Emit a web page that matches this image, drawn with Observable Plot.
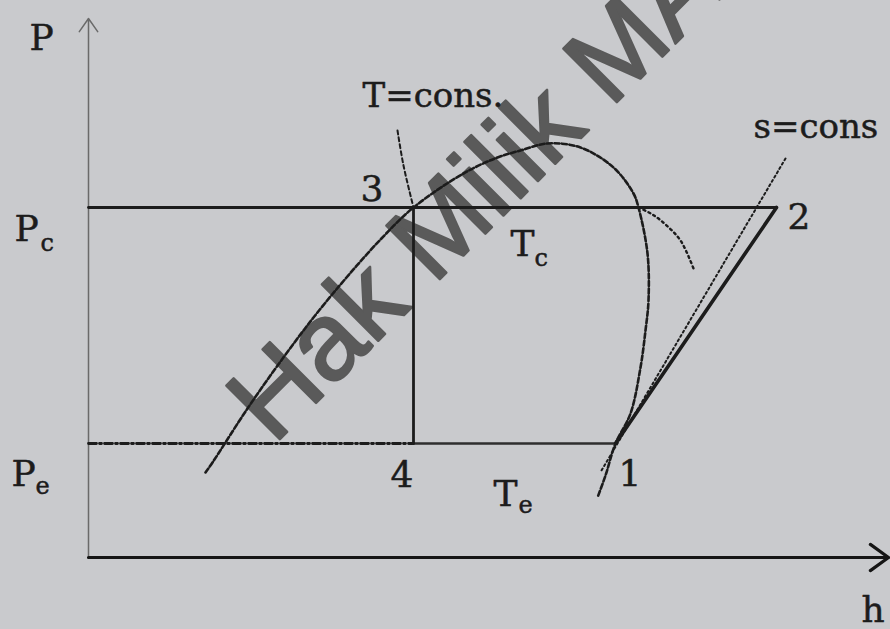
<!DOCTYPE html>
<html>
<head>
<meta charset="utf-8">
<script src="https://cdn.jsdelivr.net/npm/d3@7"></script>
<script src="https://cdn.jsdelivr.net/npm/@observablehq/plot@0.6"></script>
<style>
  html, body { margin: 0; padding: 0; background: #c9cacd; }
  #chart svg { display: block; }
</style>
</head>
<body>
<div id="chart"></div>
<script>
// Vapour-compression cycle on the pressure–enthalpy plane (arbitrary units)
const Pc = 70;     // condensing pressure
const Pe = 22.8;   // evaporating pressure
const hMax = 80;   // end of the h axis
const PMax = 107.8; // end of the P axis

const stateIds = ["1", "2", "3", "4"];
const stateH   = [52.7, 68.8, 32.5, 32.5];
const stateP   = [Pe, Pc, Pc, Pe];

// Saturation dome: liquid line, critical region, vapour line
const domeH = [11.7, 12.4, 15.9, 19.2, 22.5, 25.8, 29.2, 32.5, 37.5, 40.9, 43.2, 45.9,
               49.2, 52.5, 54.5, 55.0, 55.9, 56.0, 55.7, 55.2, 54.2, 52.7, 51.7, 50.9];
const domeP = [17.0, 19.0, 29.8, 39.2, 48.0, 56.0, 63.6, 70.0, 76.8, 80.0, 81.4, 82.8,
               82.0, 78.0, 72.8, 70.0, 60.8, 51.4, 45.4, 38.0, 28.8, 22.8, 16.4, 12.0];

// Condensing isotherm T = const: subcooled branch and superheated branch
const isoLiqH = [30.9, 31.5, 32.5];
const isoLiqP = [85.4, 78.4, 70.0];
const isoVapH = [55.0, 56.4, 57.7, 59.2, 60.5];
const isoVapP = [70.0, 68.6, 66.6, 63.4, 57.8];

// Isentrope s = const through the suction state
const sLineH = [69.7, 51.3];
const sLineP = [79.8, 17.4];

const zip = (hs, ps) => hs.map((h, i) => ({h, P: ps[i]}));
const states = stateIds.map((id, i) => ({id, h: stateH[i], P: stateP[i]}));
const s = Object.fromEntries(states.map(d => [d.id, d]));
const dome = zip(domeH, domeP);
const isoLiq = zip(isoLiqH, isoLiqP);
const isoVap = zip(isoVapH, isoVapP);
const sLine = zip(sLineH, sLineP);
const origin = {h: 0, P: 0};
const axisTop = {h: 0, P: PMax};
const axisEnd = {h: hMax, P: 0};

const ink = "#1c1c1c";
const serif = "DejaVu Serif";
const label = (datum, txt, opts) => Plot.text([datum], {
  x: "h", y: "P", text: () => txt, fill: ink, stroke: ink, strokeWidth: 0.5,
  fontFamily: serif, fontSize: 36, lineAnchor: "bottom", textAnchor: "start", ...opts
});

const chart = Plot.plot({
  width: 890,
  height: 629,
  margin: 0,
  x: {domain: [-8.8, 80.2], axis: null},
  y: {domain: [-14.4, 111.4], axis: null},
  style: {background: "#c9cacd", overflow: "visible"},
  marks: [
    // watermark
    Plot.text([s["4"]], {
      x: "h", y: "P", text: () => "Hak Milik MA", rotate: -45, dx: -140, dy: 2,
      fontSize: 110, fontFamily: "Liberation Sans", fill: "#5a5a5a",
      stroke: "#5a5a5a", strokeWidth: 2.5, textAnchor: "start", lineAnchor: "bottom"
    }),

    // axes
    Plot.arrow([{}], {
      x1: () => origin.h, y1: () => origin.P, x2: () => axisTop.h, y2: () => axisTop.P,
      stroke: "#6a6a6a", strokeWidth: 1.5, headLength: 16, headAngle: 70
    }),
    Plot.arrow([{}], {
      x1: () => origin.h, y1: () => origin.P, x2: () => axisEnd.h, y2: () => axisEnd.P,
      stroke: "#151515", strokeWidth: 3.2, headLength: 10.5, headAngle: 72
    }),

    // saturation dome
    Plot.line(dome, {x: "h", y: "P", curve: "catmull-rom", stroke: ink,
      strokeWidth: 2.6, strokeDasharray: "5,2.5"}),

    // isotherm T = const
    Plot.line(isoLiq, {x: "h", y: "P", curve: "catmull-rom", stroke: ink,
      strokeWidth: 2, strokeDasharray: "4,3"}),
    Plot.line(isoVap, {x: "h", y: "P", curve: "catmull-rom", stroke: ink,
      strokeWidth: 2.4, strokeDasharray: "2,3.5"}),

    // isentrope s = const
    Plot.line(sLine, {x: "h", y: "P", stroke: ink, strokeWidth: 2, strokeDasharray: "2,3"}),

    // condenser pressure line from the axis to state 2
    Plot.line([{h: 0, P: Pc}, s["2"]], {x: "h", y: "P", stroke: ink, strokeWidth: 2.8}),
    // evaporator pressure: dash-dot from the axis to state 4, solid 4 → 1
    Plot.line([{h: 0, P: Pe}, s["4"]], {x: "h", y: "P", stroke: ink, strokeWidth: 2.8,
      strokeDasharray: "8,3,2,3"}),
    Plot.line([s["4"], s["1"]], {x: "h", y: "P", stroke: "#2e2e2e", strokeWidth: 2.4}),
    // throttling 3 → 4
    Plot.line([s["3"], s["4"]], {x: "h", y: "P", stroke: ink, strokeWidth: 2.8}),
    // compression 1 → 2
    Plot.line([s["1"], s["2"]], {x: "h", y: "P", stroke: ink, strokeWidth: 3.6}),

    // axis labels
    label(axisTop, "P", {dx: -59, dy: 31}),
    label({h: 0, P: Pc}, "P", {dx: -74, dy: 33}),
    label({h: 0, P: Pc}, "c", {dx: -48, dy: 43, fontSize: 24}),
    label({h: 0, P: Pe}, "P", {dx: -77, dy: 42}),
    label({h: 0, P: Pe}, "e", {dx: -53, dy: 50, fontSize: 24}),
    label(axisEnd, "h", {dx: -27, dy: 64}),

    // state numbers
    label(s["3"], "3", {dx: -30, dy: -7, textAnchor: "end"}),
    label(s["2"], "2", {dx: 11, dy: 21}),
    label(s["4"], "4", {dx: 0, dy: 43, textAnchor: "end"}),
    label(s["1"], "1", {dx: 3, dy: 42}),

    // temperatures
    label(s["3"], "T", {dx: 97, dy: 48}),
    label(s["3"], "c", {dx: 121, dy: 58, fontSize: 24}),
    label(s["4"], "T", {dx: 80, dy: 62}),
    label(s["4"], "e", {dx: 105, dy: 69, fontSize: 24}),

    // curve names
    label(isoLiq[0], "T=cons.", {dx: -35, dy: -24, fontSize: 34}),
    label(sLine[0], "s=cons", {dx: -32, dy: -21, fontSize: 34})
  ]
});

document.getElementById("chart").append(chart);
</script>
</body>
</html>
